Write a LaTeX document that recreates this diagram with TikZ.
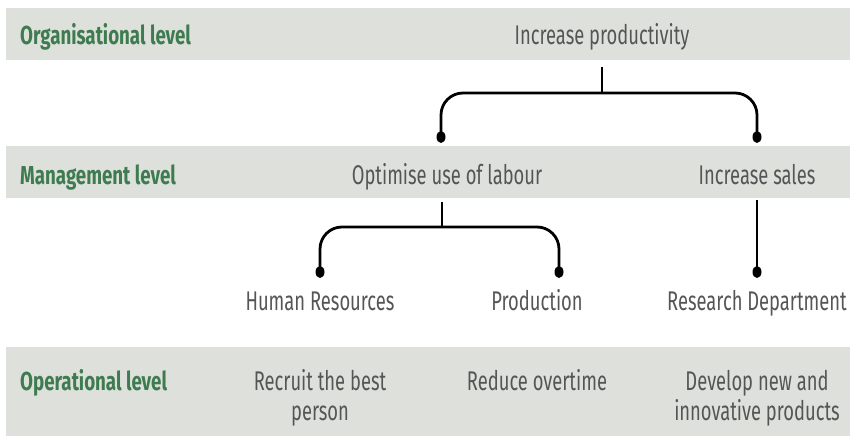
\documentclass[tikz,border=0pt]{standalone}
\usepackage{fontspec}
\setmainfont[FakeStretch=0.68, BoldFeatures={FakeStretch=0.72}]{Fira Sans}
\definecolor{band}{HTML}{DEE1DB}
\definecolor{lvl}{HTML}{3E7B50}
\definecolor{txt}{HTML}{555555}
\tikzset{
  bandbox/.style={fill=band, draw=none},
  lvltext/.style={anchor=base west, inner sep=0pt, text=lvl, font=\fontsize{26}{30}\selectfont\bfseries},
  itemtext/.style={anchor=base, inner sep=0pt, text=txt, align=center, font=\fontsize{27}{30}\selectfont},
  conn/.style={line width=2.8pt, draw=black, rounded corners=22pt},
  tipdot/.style={fill=black}
}
\begin{document}
\begin{tikzpicture}[x=1pt,y=-1pt]
\useasboundingbox (0,0) rectangle (850,436);
\fill[bandbox] (6,8) rectangle (850,60);
\fill[bandbox] (6,146) rectangle (850,198);
\fill[bandbox] (6,347) rectangle (850,436);

\node[lvltext] (l1) at (20,45) {Organisational level};
\node[lvltext] (l2) at (20,184) {Management level};
\node[lvltext] (l3) at (20,390) {Operational level};

\node[itemtext] (prod) at (602,45) {Increase productivity};
\node[itemtext] (opt) at (447,184) {Optimise use of labour};
\node[itemtext] (sales) at (757,184) {Increase sales};
\node[itemtext] (hr) at (320,310) {Human Resources};
\node[itemtext] (pdn) at (537,310) {Production};
\node[itemtext] (rd) at (757,310) {Research Department};
\node[itemtext] (o1) at (320,420) {Recruit the best\\person};
\node[itemtext] (o2) at (537,390) {Reduce overtime};
\node[itemtext] (o3) at (757,420) {Develop new and\\innovative products};

% top bracket
\draw[conn] (prod.south |- 0,67) -- (prod.south |- 0,93);
\draw[conn] ([xshift=-6pt]opt.north |- 0,137) |- (prod.south |- 0,93) -| (sales.north |- 0,137);
\fill[tipdot] ([xshift=-6pt]opt.north |- 0,137) ellipse (4.5 and 6);
\fill[tipdot] (sales.north |- 0,137) ellipse (4.5 and 6);

% middle bracket
\draw[conn] ([xshift=-5pt]opt.south |- 0,202) -- ([xshift=-5pt]opt.south |- 0,227);
\draw[conn] (hr.north |- 0,272) |- ([xshift=-5pt]opt.south |- 0,227) -| ([xshift=22pt]pdn.north |- 0,272);
\fill[tipdot] (hr.north |- 0,272) ellipse (4.5 and 6);
\fill[tipdot] ([xshift=22pt]pdn.north |- 0,272) ellipse (4.5 and 6);

% sales to research
\draw[conn] (sales.south |- 0,200) -- (rd.north |- 0,272);
\fill[tipdot] (rd.north |- 0,272) ellipse (4.5 and 6);
\end{tikzpicture}
\end{document}
